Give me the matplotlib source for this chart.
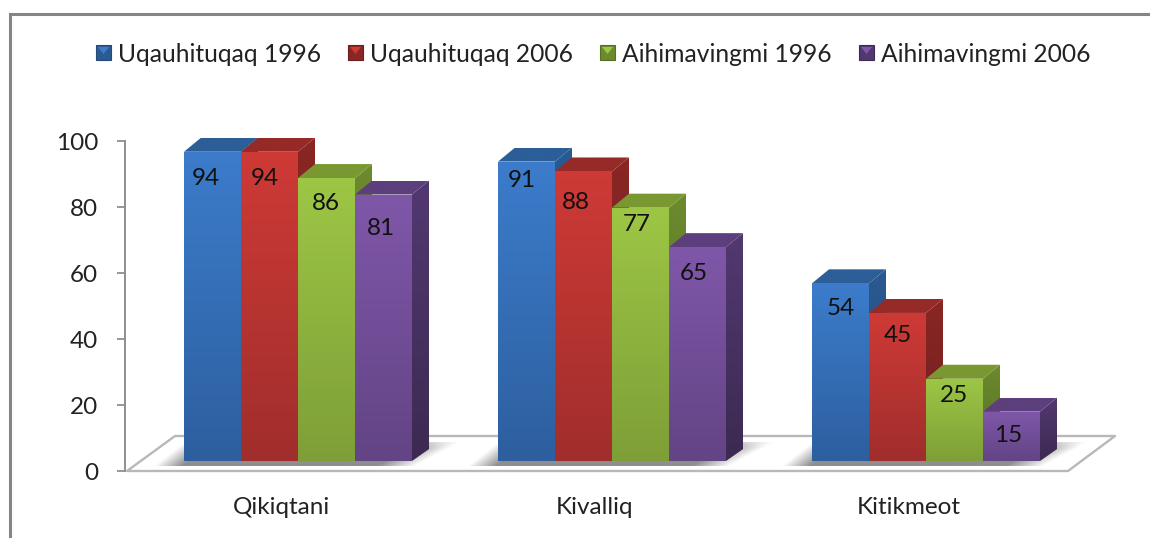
import numpy as np
import matplotlib
matplotlib.use("Agg")
import matplotlib.pyplot as plt
from matplotlib.patches import Polygon, Rectangle
from matplotlib.lines import Line2D
from matplotlib.colors import to_rgb

categories = ["Qikiqtani", "Kivalliq", "Kitikmeot"]
uqauhituqaq_1996 = [94, 91, 54]
uqauhituqaq_2006 = [94, 88, 45]
aihimavingmi_1996 = [86, 77, 25]
aihimavingmi_2006 = [81, 65, 15]
series_names = ["Uqauhituqaq 1996", "Uqauhituqaq 2006", "Aihimavingmi 1996", "Aihimavingmi 2006"]
series_values = [uqauhituqaq_1996, uqauhituqaq_2006, aihimavingmi_1996, aihimavingmi_2006]
y_ticks = [0, 20, 40, 60, 80, 100]

# front top, front bottom, side top, side bottom, top face
palette = [
    ("#3C7CCB", "#2D5F9F", "#2A5A92", "#234A78", "#2C5E98"),
    ("#CE3A36", "#A02E2C", "#8A2624", "#6E1F1D", "#962A27"),
    ("#9DC645", "#7E9F37", "#6C8A2E", "#566F25", "#7A9831"),
    ("#7F57A9", "#634485", "#523870", "#3C2A52", "#5C3F7C"),
]
legend_x = [96, 348, 600, 859]
# hand placement of the value labels relative to the bar's top centre, in pixels (series x category)
label_dx = [[-7, -5, 0], [-5, -8, 0], [-1, -4, 0], [-3, -4, -3]]
label_dy = [[27, 19, 25], [27, 31, 23], [25, 17, 17], [34, 26, 24]]

W, H = 1150, 538
fig = plt.figure(figsize=(W / 100, H / 100), dpi=100, facecolor="white")
plt.rcParams["font.family"] = ["Lato", "DejaVu Sans"]

# axes: y pixels 471..141 = 0..100; x spacing 314 px per category, first centre at 298 px
AX_L, AX_T, AX_B = 125, 141, 471
ax = fig.add_axes([AX_L / W, 1 - AX_B / H, (W - AX_L) / W, (AX_B - AX_T) / H])
XPX, YPX = 314.0, 3.3
xlim = ((AX_L - 298) / XPX, (W - 298) / XPX)
ax.set_facecolor("none")

dx, dy = 17 / XPX, 14 / YPX       # depth of the bars
bar_w = 57 / XPX
base = 10 / YPX                   # bars stand on the floor, above the 0 line
y_factor = 3.29 / YPX


def grad(poly, c_top, c_bot, z):
    """Vertical gradient fill for a polygon in data coordinates."""
    p = Polygon(poly, closed=True, transform=ax.transData, fc="none", ec="none", zorder=z)
    ax.add_patch(p)
    xs, ys = zip(*poly)
    t = np.linspace(0, 1, 64)[:, None, None]
    img = (1 - t) * np.array(to_rgb(c_top))[None, None, :] + t * np.array(to_rgb(c_bot))[None, None, :]
    im = ax.imshow(img, extent=(min(xs), max(xs), min(ys), max(ys)), origin="upper",
                   aspect="auto", interpolation="bilinear", zorder=z)
    im.set_clip_box(fig.bbox)
    im.set_clip_path(p)


# floor
floor_h = 35 / YPX
fl, fr = (127 - 298) / XPX, (1068 - 298) / XPX
bl, br = (175 - 298) / XPX, (1115 - 298) / XPX
ax.add_patch(Polygon([(fl, 0), (fr, 0), (br, floor_h), (bl, floor_h)], closed=True, fc="white",
                     ec="#B8B8B8", lw=1.7, zorder=1, clip_on=False, joinstyle="round"))

# soft shadows under the groups
n = len(series_values)
for g in range(len(categories)):
    left = g - 2 * bar_w
    right = g + 2 * bar_w
    sb, st = base - 5 / YPX, base + 19 / YPX
    sl, sr = left - 30 / XPX, right + 48 / XPX
    xx, yy = np.meshgrid(np.linspace(sl, sr, 400), np.linspace(st, sb, 40))
    f = (yy - sb) / (st - sb)
    left_edge = sl + f * 30 / XPX
    right_edge = right + 4 / XPX + f * 44 / XPX
    alpha = np.clip((xx - left_edge) / (28 / XPX), 0, 1) * np.clip((right_edge - xx) / (38 / XPX), 0, 1)
    alpha *= np.clip((1 - f) / 0.25, 0, 1) * 0.5 + 0.5
    rgba = np.zeros((40, 400, 4))
    rgba[..., :3] = 0.45
    rgba[..., 3] = 0.8 * alpha
    ax.imshow(rgba, extent=(sl, sr, sb, st), origin="upper", aspect="auto",
              interpolation="bilinear", zorder=2)

# bars
z = 3
for g in range(len(categories)):
    for s in range(n):
        v = series_values[s][g]
        c = palette[s]
        x0 = g + (s - n / 2) * bar_w
        x1 = x0 + bar_w
        top = base + v * y_factor
        grad([(x1, base), (x1 + dx, base + dy * 0.85), (x1 + dx, top + dy), (x1, top)], c[2], c[3], z)
        grad([(x0, top), (x1, top), (x1 + dx, top + dy), (x0 + dx, top + dy)], c[4], c[4], z)
        grad([(x0, base), (x1, base), (x1, top), (x0, top)], c[0], c[1], z + 0.1)
        ax.annotate(str(v), (x0 + bar_w / 2, top),
                    xytext=(label_dx[s][g] * 0.72, -label_dy[s][g] * 0.72), textcoords="offset points",
                    ha="center", va="center", fontsize=17.5, color="#111111", zorder=z + 0.2)
        z += 0.5

ax.set_xlim(*xlim)
ax.set_ylim(0, 100)
ax.set_yticks(y_ticks)
ax.set_xticks([i - 17 / XPX for i in range(len(categories))])
ax.set_xticklabels(categories, fontsize=17.5, color="#222222")
ax.tick_params(axis="x", length=0, pad=18.5)
ax.tick_params(axis="y", length=8 * 0.72, width=1.3, color="#8F8F8F", labelsize=17.5,
               labelcolor="#222222", pad=13.5)
for side in ("top", "right", "bottom"):
    ax.spines[side].set_visible(False)
ax.spines["left"].set_color("#8F8F8F")
ax.spines["left"].set_linewidth(1.4)

# chart frame (top and left only reach the picture)
fig.add_artist(Line2D([9.5 / W, 9.5 / W, 1], [0, 1 - 13.5 / H, 1 - 13.5 / H], color="#858585", lw=2.2,
                      solid_joinstyle="miter"))

# legend
for name, lx, c in zip(series_names, legend_x, palette):
    sx, sy, sw = lx, 45, 15
    fig.add_artist(Rectangle((sx / W, 1 - (sy + sw) / H), sw / W, sw / H, transform=fig.transFigure,
                             fc=c[2], ec=c[3], lw=0.8))
    fig.add_artist(Polygon([((sx + 2) / W, 1 - (sy + 2) / H), ((sx + sw - 2) / W, 1 - (sy + 2) / H),
                            ((sx + sw / 2) / W, 1 - (sy + 9) / H)], closed=True,
                           transform=fig.transFigure, fc=c[0], ec="none"))
    fig.text((lx + 22) / W, 1 - 54.5 / H, name, fontsize=17.7, color="#222222", ha="left", va="center")

fig.savefig("out.png", dpi=100, facecolor="white")
